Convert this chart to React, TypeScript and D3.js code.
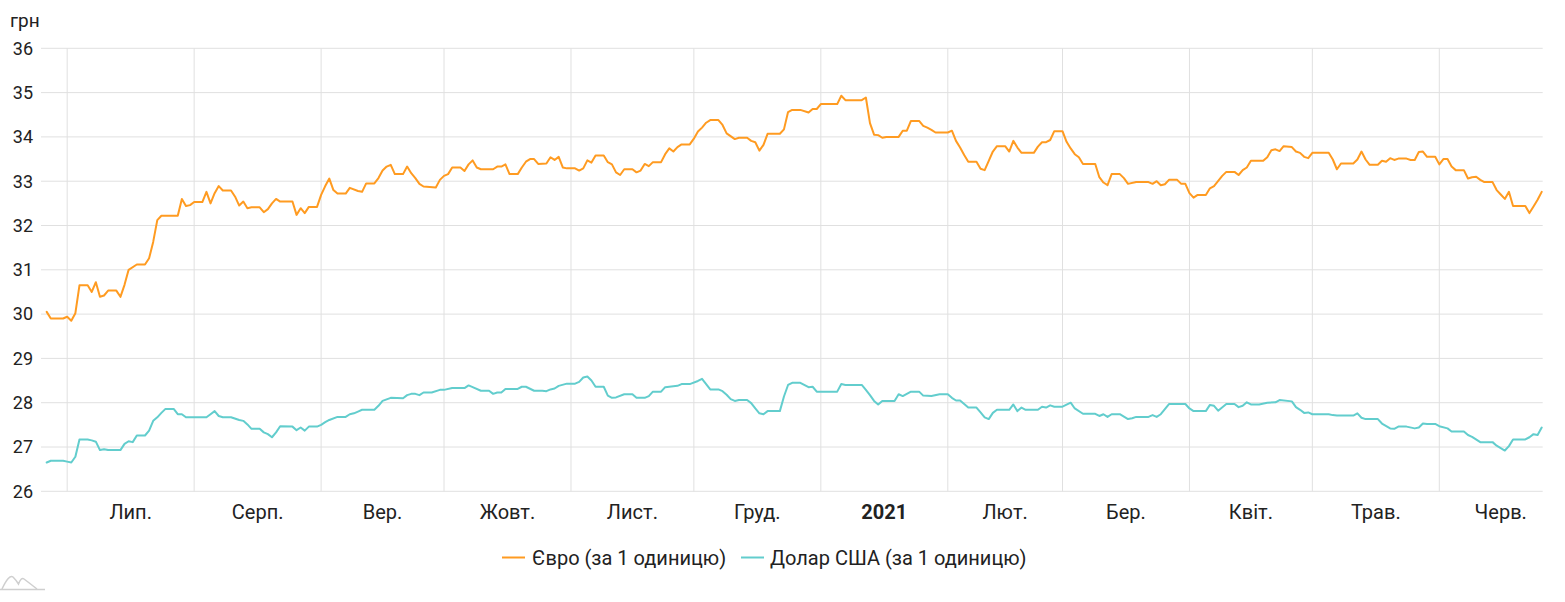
import React from 'react';
import * as d3 from 'd3';

const WIDTH = 1565;
const HEIGHT = 602;

const unitLabel = 'грн';
const yTicks = [26, 27, 28, 29, 30, 31, 32, 33, 34, 35, 36];
const monthLabels = ['Лип.', 'Серп.', 'Вер.', 'Жовт.', 'Лист.', 'Груд.', '2021', 'Лют.', 'Бер.', 'Квіт.', 'Трав.', 'Черв.'];
const seriesNames = ['Євро (за 1 одиницю)', 'Долар США (за 1 одиницю)'];
const seriesColors = ['#ff9b21', '#62cdcd'];

// [date, UAH per 1 unit] at the turning points of each line
const eurRates: [string, number][] = [
  ['2020-06-26', 30.05], ['2020-06-27', 29.9], ['2020-06-30', 29.9], ['2020-07-01', 29.94], ['2020-07-02', 29.85],
  ['2020-07-03', 30.02], ['2020-07-04', 30.65], ['2020-07-06', 30.65], ['2020-07-07', 30.5], ['2020-07-08', 30.72],
  ['2020-07-09', 30.39], ['2020-07-10', 30.42], ['2020-07-11', 30.53], ['2020-07-13', 30.53], ['2020-07-14', 30.39],
  ['2020-07-15', 30.66], ['2020-07-16', 31.0], ['2020-07-18', 31.12], ['2020-07-20', 31.12], ['2020-07-21', 31.26],
  ['2020-07-22', 31.63], ['2020-07-23', 32.12], ['2020-07-24', 32.22], ['2020-07-28', 32.22], ['2020-07-29', 32.6],
  ['2020-07-30', 32.44], ['2020-07-31', 32.46], ['2020-08-01', 32.53], ['2020-08-03', 32.53], ['2020-08-04', 32.76],
  ['2020-08-05', 32.5], ['2020-08-06', 32.73], ['2020-08-07', 32.89], ['2020-08-08', 32.79], ['2020-08-10', 32.79],
  ['2020-08-11', 32.65], ['2020-08-12', 32.45], ['2020-08-13', 32.54], ['2020-08-14', 32.39], ['2020-08-15', 32.41],
  ['2020-08-17', 32.41], ['2020-08-18', 32.3], ['2020-08-19', 32.37], ['2020-08-20', 32.5], ['2020-08-21', 32.6],
  ['2020-08-22', 32.54], ['2020-08-25', 32.54], ['2020-08-26', 32.24], ['2020-08-27', 32.39], ['2020-08-28', 32.28],
  ['2020-08-29', 32.42], ['2020-08-31', 32.42], ['2020-09-01', 32.69], ['2020-09-02', 32.89], ['2020-09-03', 33.06],
  ['2020-09-04', 32.8], ['2020-09-05', 32.72], ['2020-09-07', 32.72], ['2020-09-08', 32.85], ['2020-09-10', 32.78],
  ['2020-09-11', 32.76], ['2020-09-12', 32.95], ['2020-09-14', 32.95], ['2020-09-15', 33.07], ['2020-09-16', 33.24],
  ['2020-09-17', 33.33], ['2020-09-18', 33.37], ['2020-09-19', 33.16], ['2020-09-21', 33.16], ['2020-09-22', 33.33],
  ['2020-09-23', 33.18], ['2020-09-24', 33.07], ['2020-09-25', 32.94], ['2020-09-26', 32.88], ['2020-09-29', 32.86],
  ['2020-09-30', 33.03], ['2020-10-01', 33.12], ['2020-10-02', 33.16], ['2020-10-03', 33.31], ['2020-10-05', 33.31],
  ['2020-10-06', 33.23], ['2020-10-07', 33.38], ['2020-10-08', 33.47], ['2020-10-09', 33.31], ['2020-10-10', 33.27],
  ['2020-10-13', 33.27], ['2020-10-14', 33.33], ['2020-10-15', 33.33], ['2020-10-16', 33.38], ['2020-10-17', 33.16],
  ['2020-10-19', 33.16], ['2020-10-20', 33.31], ['2020-10-21', 33.44], ['2020-10-22', 33.5], ['2020-10-23', 33.5],
  ['2020-10-24', 33.39], ['2020-10-26', 33.4], ['2020-10-27', 33.54], ['2020-10-28', 33.48], ['2020-10-29', 33.55],
  ['2020-10-30', 33.31], ['2020-10-31', 33.29], ['2020-11-02', 33.29], ['2020-11-03', 33.24], ['2020-11-04', 33.29],
  ['2020-11-05', 33.47], ['2020-11-06', 33.42], ['2020-11-07', 33.58], ['2020-11-09', 33.58], ['2020-11-10', 33.43],
  ['2020-11-11', 33.38], ['2020-11-12', 33.2], ['2020-11-13', 33.14], ['2020-11-14', 33.27], ['2020-11-16', 33.27],
  ['2020-11-17', 33.2], ['2020-11-18', 33.24], ['2020-11-19', 33.39], ['2020-11-20', 33.34], ['2020-11-21', 33.43],
  ['2020-11-23', 33.43], ['2020-11-24', 33.61], ['2020-11-25', 33.74], ['2020-11-26', 33.67], ['2020-11-27', 33.77],
  ['2020-11-28', 33.83], ['2020-11-30', 33.83], ['2020-12-01', 33.96], ['2020-12-02', 34.12], ['2020-12-03', 34.21],
  ['2020-12-04', 34.32], ['2020-12-05', 34.38], ['2020-12-07', 34.38], ['2020-12-08', 34.27], ['2020-12-09', 34.08],
  ['2020-12-11', 33.95], ['2020-12-12', 33.98], ['2020-12-14', 33.98], ['2020-12-15', 33.91], ['2020-12-16', 33.88],
  ['2020-12-17', 33.69], ['2020-12-18', 33.82], ['2020-12-19', 34.07], ['2020-12-22', 34.07], ['2020-12-23', 34.17],
  ['2020-12-24', 34.56], ['2020-12-25', 34.61], ['2020-12-27', 34.61], ['2020-12-29', 34.55], ['2020-12-30', 34.63],
  ['2020-12-31', 34.63], ['2021-01-01', 34.74], ['2021-01-05', 34.74], ['2021-01-06', 34.93], ['2021-01-07', 34.83],
  ['2021-01-11', 34.83], ['2021-01-12', 34.89], ['2021-01-13', 34.31], ['2021-01-14', 34.05], ['2021-01-15', 34.04],
  ['2021-01-16', 33.98], ['2021-01-17', 34.0], ['2021-01-20', 34.0], ['2021-01-21', 34.14], ['2021-01-22', 34.14],
  ['2021-01-23', 34.36], ['2021-01-25', 34.36], ['2021-01-26', 34.25], ['2021-01-27', 34.21], ['2021-01-28', 34.16],
  ['2021-01-29', 34.1], ['2021-02-01', 34.1], ['2021-02-02', 34.14], ['2021-02-03', 33.91], ['2021-02-04', 33.76],
  ['2021-02-05', 33.59], ['2021-02-06', 33.44], ['2021-02-08', 33.44], ['2021-02-09', 33.28], ['2021-02-10', 33.25],
  ['2021-02-11', 33.46], ['2021-02-12', 33.67], ['2021-02-13', 33.79], ['2021-02-15', 33.79], ['2021-02-16', 33.67],
  ['2021-02-17', 33.91], ['2021-02-18', 33.76], ['2021-02-19', 33.64], ['2021-02-22', 33.64], ['2021-02-23', 33.78],
  ['2021-02-24', 33.88], ['2021-02-25', 33.88], ['2021-02-26', 33.93], ['2021-02-27', 34.13], ['2021-03-01', 34.13],
  ['2021-03-02', 33.89], ['2021-03-03', 33.74], ['2021-03-04', 33.61], ['2021-03-05', 33.54], ['2021-03-06', 33.39],
  ['2021-03-09', 33.39], ['2021-03-10', 33.09], ['2021-03-11', 32.97], ['2021-03-12', 32.91], ['2021-03-13', 33.16],
  ['2021-03-15', 33.16], ['2021-03-16', 33.07], ['2021-03-17', 32.94], ['2021-03-19', 32.98], ['2021-03-22', 32.98],
  ['2021-03-23', 32.94], ['2021-03-24', 33.0], ['2021-03-25', 32.91], ['2021-03-26', 32.93], ['2021-03-27', 33.03],
  ['2021-03-29', 33.03], ['2021-03-30', 32.94], ['2021-03-31', 32.94], ['2021-04-01', 32.73], ['2021-04-02', 32.63],
  ['2021-04-03', 32.69], ['2021-04-05', 32.69], ['2021-04-06', 32.84], ['2021-04-07', 32.89], ['2021-04-09', 33.12],
  ['2021-04-10', 33.21], ['2021-04-12', 33.21], ['2021-04-13', 33.14], ['2021-04-14', 33.25], ['2021-04-15', 33.31],
  ['2021-04-16', 33.46], ['2021-04-19', 33.46], ['2021-04-20', 33.54], ['2021-04-21', 33.7], ['2021-04-22', 33.72],
  ['2021-04-23', 33.68], ['2021-04-24', 33.79], ['2021-04-26', 33.77], ['2021-04-27', 33.67], ['2021-04-28', 33.64],
  ['2021-04-29', 33.55], ['2021-04-30', 33.52], ['2021-05-01', 33.64], ['2021-05-05', 33.64], ['2021-05-06', 33.49],
  ['2021-05-07', 33.27], ['2021-05-08', 33.4], ['2021-05-11', 33.4], ['2021-05-12', 33.49], ['2021-05-13', 33.67],
  ['2021-05-14', 33.49], ['2021-05-15', 33.37], ['2021-05-17', 33.37], ['2021-05-18', 33.46], ['2021-05-19', 33.44],
  ['2021-05-20', 33.52], ['2021-05-21', 33.48], ['2021-05-22', 33.51], ['2021-05-24', 33.51], ['2021-05-25', 33.48],
  ['2021-05-26', 33.48], ['2021-05-27', 33.66], ['2021-05-28', 33.67], ['2021-05-29', 33.55], ['2021-05-31', 33.55],
  ['2021-06-01', 33.38], ['2021-06-02', 33.5], ['2021-06-03', 33.5], ['2021-06-04', 33.33], ['2021-06-05', 33.25],
  ['2021-06-07', 33.25], ['2021-06-08', 33.06], ['2021-06-09', 33.09], ['2021-06-10', 33.1], ['2021-06-11', 33.03],
  ['2021-06-12', 32.98], ['2021-06-14', 32.98], ['2021-06-15', 32.8], ['2021-06-16', 32.7], ['2021-06-17', 32.6],
  ['2021-06-18', 32.76], ['2021-06-19', 32.44], ['2021-06-22', 32.44], ['2021-06-23', 32.28], ['2021-06-24', 32.43],
  ['2021-06-25', 32.58], ['2021-06-26', 32.76],
];

const usdRates: [string, number][] = [
  ['2020-06-26', 26.65], ['2020-06-27', 26.69], ['2020-06-30', 26.69], ['2020-07-01', 26.67], ['2020-07-02', 26.65],
  ['2020-07-03', 26.78], ['2020-07-04', 27.17], ['2020-07-06', 27.17], ['2020-07-07', 27.15], ['2020-07-08', 27.12],
  ['2020-07-09', 26.93], ['2020-07-10', 26.95], ['2020-07-11', 26.93], ['2020-07-14', 26.93], ['2020-07-15', 27.07],
  ['2020-07-16', 27.13], ['2020-07-17', 27.11], ['2020-07-18', 27.26], ['2020-07-20', 27.26], ['2020-07-21', 27.37],
  ['2020-07-22', 27.59], ['2020-07-23', 27.67], ['2020-07-24', 27.77], ['2020-07-25', 27.86], ['2020-07-27', 27.86],
  ['2020-07-28', 27.74], ['2020-07-29', 27.74], ['2020-07-30', 27.67], ['2020-08-04', 27.67], ['2020-08-05', 27.74],
  ['2020-08-06', 27.81], ['2020-08-07', 27.7], ['2020-08-08', 27.67], ['2020-08-10', 27.67], ['2020-08-12', 27.61],
  ['2020-08-13', 27.59], ['2020-08-14', 27.51], ['2020-08-15', 27.41], ['2020-08-17', 27.41], ['2020-08-18', 27.33],
  ['2020-08-19', 27.29], ['2020-08-20', 27.22], ['2020-08-21', 27.33], ['2020-08-22', 27.47], ['2020-08-25', 27.46],
  ['2020-08-26', 27.38], ['2020-08-27', 27.44], ['2020-08-28', 27.37], ['2020-08-29', 27.46], ['2020-08-31', 27.46],
  ['2020-09-01', 27.5], ['2020-09-02', 27.56], ['2020-09-03', 27.61], ['2020-09-05', 27.68], ['2020-09-07', 27.68],
  ['2020-09-08', 27.74], ['2020-09-09', 27.76], ['2020-09-10', 27.8], ['2020-09-11', 27.84], ['2020-09-14', 27.84],
  ['2020-09-15', 27.93], ['2020-09-16', 28.04], ['2020-09-18', 28.11], ['2020-09-21', 28.1], ['2020-09-22', 28.17],
  ['2020-09-23', 28.2], ['2020-09-24', 28.2], ['2020-09-25', 28.17], ['2020-09-26', 28.23], ['2020-09-28', 28.23],
  ['2020-09-30', 28.29], ['2020-10-01', 28.29], ['2020-10-03', 28.33], ['2020-10-06', 28.33], ['2020-10-07', 28.39],
  ['2020-10-08', 28.35], ['2020-10-10', 28.27], ['2020-10-12', 28.27], ['2020-10-13', 28.2], ['2020-10-14', 28.23],
  ['2020-10-15', 28.23], ['2020-10-16', 28.31], ['2020-10-19', 28.31], ['2020-10-20', 28.36], ['2020-10-21', 28.36],
  ['2020-10-23', 28.27], ['2020-10-25', 28.27], ['2020-10-26', 28.26], ['2020-10-27', 28.3], ['2020-10-28', 28.32],
  ['2020-10-29', 28.38], ['2020-10-31', 28.43], ['2020-11-02', 28.43], ['2020-11-03', 28.47], ['2020-11-04', 28.57],
  ['2020-11-05', 28.59], ['2020-11-06', 28.5], ['2020-11-07', 28.36], ['2020-11-09', 28.36], ['2020-11-10', 28.16],
  ['2020-11-11', 28.11], ['2020-11-12', 28.12], ['2020-11-14', 28.19], ['2020-11-16', 28.19], ['2020-11-17', 28.11],
  ['2020-11-19', 28.11], ['2020-11-20', 28.15], ['2020-11-21', 28.25], ['2020-11-23', 28.25], ['2020-11-24', 28.35],
  ['2020-11-27', 28.38], ['2020-11-28', 28.42], ['2020-11-30', 28.42], ['2020-12-02', 28.49], ['2020-12-03', 28.54],
  ['2020-12-04', 28.42], ['2020-12-05', 28.3], ['2020-12-07', 28.3], ['2020-12-08', 28.26], ['2020-12-09', 28.18],
  ['2020-12-10', 28.08], ['2020-12-11', 28.04], ['2020-12-12', 28.06], ['2020-12-14', 28.06], ['2020-12-15', 27.99],
  ['2020-12-16', 27.87], ['2020-12-17', 27.76], ['2020-12-18', 27.74], ['2020-12-19', 27.81], ['2020-12-22', 27.81],
  ['2020-12-23', 28.14], ['2020-12-24', 28.4], ['2020-12-25', 28.45], ['2020-12-27', 28.45], ['2020-12-29', 28.35],
  ['2020-12-30', 28.36], ['2020-12-31', 28.25], ['2021-01-05', 28.25], ['2021-01-06', 28.42], ['2021-01-07', 28.4],
  ['2021-01-11', 28.4], ['2021-01-12', 28.29], ['2021-01-13', 28.17], ['2021-01-14', 28.04], ['2021-01-15', 27.96],
  ['2021-01-16', 28.04], ['2021-01-19', 28.04], ['2021-01-20', 28.19], ['2021-01-21', 28.15], ['2021-01-23', 28.25],
  ['2021-01-25', 28.25], ['2021-01-26', 28.16], ['2021-01-28', 28.15], ['2021-01-30', 28.19], ['2021-02-01', 28.19],
  ['2021-02-02', 28.11], ['2021-02-03', 28.05], ['2021-02-04', 28.05], ['2021-02-06', 27.89], ['2021-02-08', 27.89],
  ['2021-02-09', 27.78], ['2021-02-10', 27.67], ['2021-02-11', 27.63], ['2021-02-12', 27.77], ['2021-02-13', 27.84],
  ['2021-02-16', 27.84], ['2021-02-17', 27.96], ['2021-02-18', 27.81], ['2021-02-19', 27.89], ['2021-02-20', 27.84],
  ['2021-02-23', 27.84], ['2021-02-24', 27.91], ['2021-02-25', 27.89], ['2021-02-26', 27.94], ['2021-02-27', 27.91],
  ['2021-03-01', 27.91], ['2021-03-03', 28.0], ['2021-03-04', 27.87], ['2021-03-06', 27.75], ['2021-03-09', 27.75],
  ['2021-03-10', 27.7], ['2021-03-11', 27.74], ['2021-03-12', 27.68], ['2021-03-13', 27.74], ['2021-03-15', 27.74],
  ['2021-03-17', 27.63], ['2021-03-18', 27.65], ['2021-03-19', 27.68], ['2021-03-22', 27.68], ['2021-03-23', 27.72],
  ['2021-03-24', 27.68], ['2021-03-25', 27.74], ['2021-03-27', 27.97], ['2021-03-31', 27.97], ['2021-04-01', 27.87],
  ['2021-04-02', 27.81], ['2021-04-05', 27.81], ['2021-04-06', 27.95], ['2021-04-07', 27.93], ['2021-04-08', 27.82],
  ['2021-04-10', 27.97], ['2021-04-12', 27.97], ['2021-04-13', 27.9], ['2021-04-14', 27.93], ['2021-04-15', 28.01],
  ['2021-04-16', 27.96], ['2021-04-18', 27.96], ['2021-04-20', 28.0], ['2021-04-22', 28.01], ['2021-04-23', 28.06],
  ['2021-04-26', 28.03], ['2021-04-27', 27.9], ['2021-04-28', 27.84], ['2021-04-29', 27.77], ['2021-04-30', 27.78],
  ['2021-05-01', 27.74], ['2021-05-05', 27.74], ['2021-05-06', 27.72], ['2021-05-07', 27.71], ['2021-05-11', 27.71],
  ['2021-05-12', 27.76], ['2021-05-13', 27.66], ['2021-05-14', 27.63], ['2021-05-17', 27.63], ['2021-05-18', 27.53],
  ['2021-05-20', 27.42], ['2021-05-21', 27.41], ['2021-05-22', 27.46], ['2021-05-24', 27.46], ['2021-05-26', 27.42],
  ['2021-05-27', 27.44], ['2021-05-28', 27.53], ['2021-05-29', 27.52], ['2021-05-31', 27.52], ['2021-06-01', 27.47],
  ['2021-06-03', 27.42], ['2021-06-04', 27.35], ['2021-06-07', 27.35], ['2021-06-08', 27.27], ['2021-06-09', 27.23],
  ['2021-06-11', 27.11], ['2021-06-14', 27.11], ['2021-06-15', 27.03], ['2021-06-17', 26.92], ['2021-06-18', 27.02],
  ['2021-06-19', 27.17], ['2021-06-22', 27.17], ['2021-06-23', 27.22], ['2021-06-24', 27.29], ['2021-06-25', 27.27],
  ['2021-06-26', 27.44],
];

const parseDate = d3.timeParse('%Y-%m-%d');

const margin = { left: 41, right: 22.3, top: 48.3, bottom: 110.7 };
const plotRight = WIDTH - margin.right;
const plotBottom = HEIGHT - margin.bottom;
const FONT = 'Roboto, "Noto Sans", Arial, sans-serif';

export default function App() {
  const series = [eurRates, usdRates].map((rows) => rows.map(([d, v]) => ({ date: parseDate(d) as Date, value: v })));

  const x = d3
    .scaleTime()
    .domain([parseDate(eurRates[0][0]) as Date, parseDate(eurRates[eurRates.length - 1][0]) as Date])
    .range([46.7, 1541.7]);
  const y = d3.scaleLinear().domain([yTicks[0], yTicks[yTicks.length - 1]]).range([plotBottom, margin.top]);

  const monthStarts = d3.timeMonth.range(d3.timeMonth.ceil(x.domain()[0]), d3.timeMonth.offset(x.domain()[1], 1));
  const monthMid = (m: Date) => new Date((m.getTime() + d3.timeMonth.offset(m, 1).getTime()) / 2);

  const line = d3
    .line<{ date: Date; value: number }>()
    .x((d) => x(d.date))
    .y((d) => y(d.value));

  // legend: line sample + label, laid out left to right
  const legendItems = [
    { lx: 502, tx: 532 },
    { lx: 741, tx: 770 },
  ];

  return (
    <svg
      width={WIDTH}
      height={HEIGHT}
      style={{ position: 'absolute', left: 0, top: 0, display: 'block', background: '#fff' }}
      fontFamily={FONT}
    >
      {/* horizontal grid */}
      {yTicks.map((t) => (
        <line key={'h' + t} x1={margin.left} x2={plotRight} y1={y(t)} y2={y(t)} stroke="#e0e0e0" strokeWidth={1} />
      ))}
      {/* vertical month grid */}
      {monthStarts
        .filter((m) => x(m) < plotRight)
        .map((m) => (
          <line key={'v' + m.getTime()} x1={x(m)} x2={x(m)} y1={margin.top} y2={plotBottom} stroke="#e0e0e0" strokeWidth={1} />
        ))}

      {/* y tick labels */}
      {yTicks.map((t) => (
        <text key={'yl' + t} x={33} y={y(t)} dy="0.35em" textAnchor="end" fontSize={18} fill="#222">
          {t}
        </text>
      ))}
      <text x={10} y={27} fontSize={19} fill="#222">
        {unitLabel}
      </text>

      {/* x labels at month middles */}
      {monthStarts.map((m, i) =>
        monthLabels[i] ? (
          <text
            key={'xl' + i}
            x={x(monthMid(m))}
            y={519}
            textAnchor="middle"
            fontSize={20}
            fontWeight={m.getMonth() === 0 ? 700 : 400}
            fill="#222"
          >
            {monthLabels[i]}
          </text>
        ) : null
      )}

      {/* series */}
      {series.map((s, i) => (
        <path
          key={'s' + i}
          d={line(s) || ''}
          fill="none"
          stroke={seriesColors[i]}
          strokeWidth={2}
          strokeLinejoin="round"
          strokeLinecap="round"
        />
      ))}

      {/* legend */}
      {legendItems.map((p, i) => (
        <g key={'lg' + i}>
          <line x1={p.lx} x2={p.lx + 23} y1={557.5} y2={557.5} stroke={seriesColors[i]} strokeWidth={2} />
          <text x={p.tx} y={557.5} dy="0.35em" fontSize={20} fill="#222">
            {seriesNames[i]}
          </text>
        </g>
      ))}

      {/* small logo mark */}
      <g fill="none" stroke="#cfcfcf" strokeWidth={1.5}>
        <path d="M2,589 Q9,574 13,577 Q16,580 18.5,584 Q21,577 24,579 Q28,582 37,589" />
        <line x1={0} x2={45} y1={589.5} y2={589.5} />
      </g>
    </svg>
  );
}
